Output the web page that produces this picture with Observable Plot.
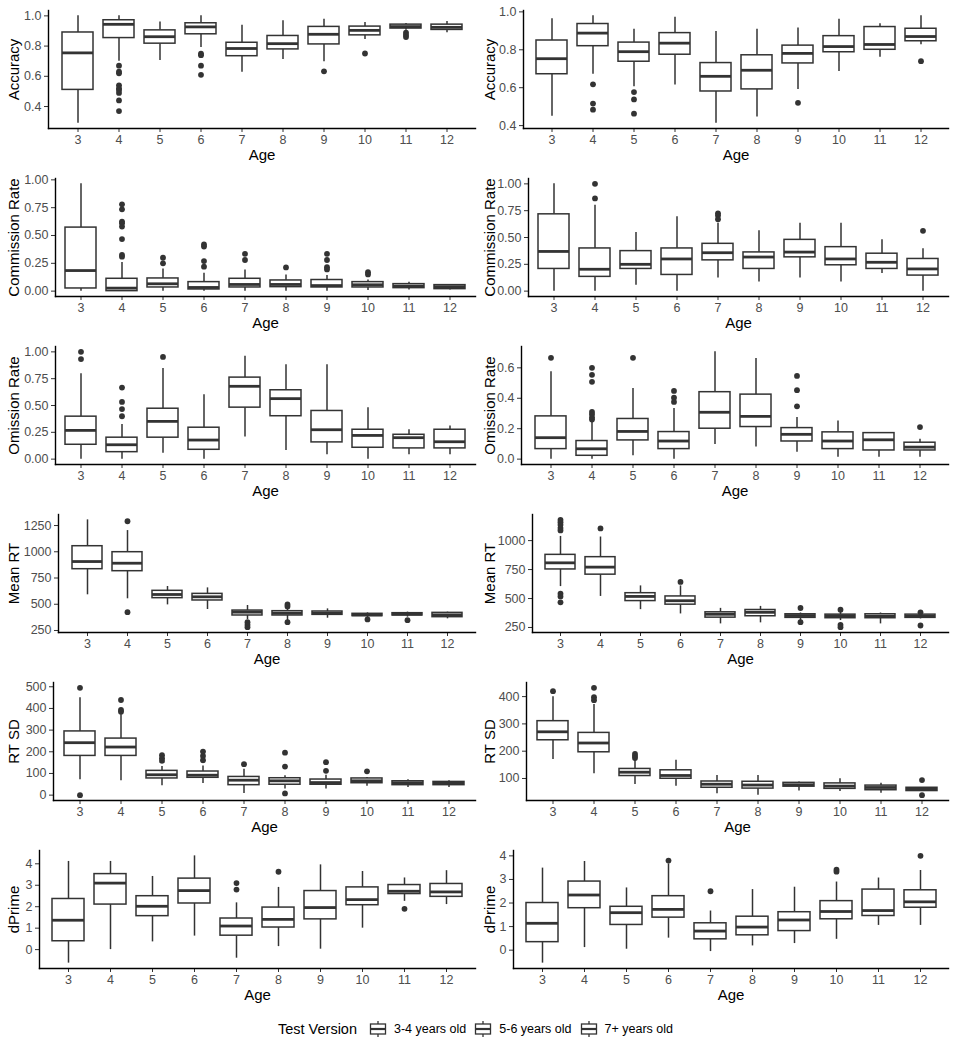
<!DOCTYPE html>
<html><head><meta charset="utf-8">
<script src="https://cdn.jsdelivr.net/npm/d3@7"></script>
<script src="https://cdn.jsdelivr.net/npm/@observablehq/plot@0.6"></script>
<style>
body{margin:0;background:#fff;font-family:"Liberation Sans",Arial,sans-serif;}
#grid{display:flex;flex-wrap:wrap;width:958px;}
#grid svg{display:block;}
#legend{width:958px;height:42px;display:flex;align-items:center;justify-content:center;font-family:"Liberation Sans",Arial,sans-serif;}
#legend .t{font-size:14.5px;color:#000;margin-right:11px;}
#legend .l{font-size:12.5px;color:#000;margin:0 7px 0 6px;}
#legend svg{display:block;}
</style></head><body>
<div id="grid"></div>
<div id="legend"></div>
<script>
const ages = [3,4,5,6,7,8,9,10,11,12];
const legendLabels = ["3-4 years old","5-6 years old","7+ years old"];

// each row: [lower whisker, Q1, median, Q3, upper whisker] for ages 3..12
const accLeft = [[0.29,0.51,0.755,0.89,1.0],[0.70,0.853,0.944,0.971,1.0],[0.704,0.816,0.862,0.904,0.96],[0.79,0.878,0.927,0.951,1.0],[0.627,0.733,0.784,0.822,0.938],[0.711,0.778,0.816,0.867,0.967],[0.696,0.811,0.878,0.927,0.978],[0.844,0.871,0.904,0.929,0.956],[0.905,0.916,0.929,0.942,0.949],[0.889,0.907,0.924,0.942,0.962]];
const accLeftOut = [[4,0.67],[4,0.63],[4,0.62],[4,0.54],[4,0.52],[4,0.51],[4,0.49],[4,0.44],[4,0.37],[6,0.75],[6,0.74],[6,0.67],[6,0.61],[9,0.633],[10,0.751],[11,0.889],[11,0.873],[11,0.86]];
const accRight = [[0.449,0.671,0.753,0.849,0.964],[0.671,0.819,0.888,0.936,0.979],[0.605,0.737,0.79,0.838,0.908],[0.614,0.774,0.835,0.888,0.972],[0.413,0.58,0.66,0.73,0.897],[0.445,0.591,0.692,0.771,0.908],[0.591,0.728,0.781,0.822,0.915],[0.685,0.787,0.817,0.872,0.961],[0.76,0.8,0.828,0.92,0.938],[0.826,0.845,0.87,0.911,0.979]];
const accRightOut = [[4,0.618],[4,0.516],[4,0.484],[5,0.577],[5,0.538],[5,0.463],[9,0.52],[12,0.74]];

const comLeft = [[0,0.024,0.185,0.571,0.964],[0,0,0.027,0.111,0.258],[0,0.033,0.066,0.114,0.2],[0,0.015,0.033,0.081,0.16],[0,0.033,0.06,0.111,0.19],[0,0.036,0.06,0.096,0.144],[0,0.033,0.05,0.1,0.14],[0.005,0.033,0.057,0.081,0.099],[0.01,0.027,0.045,0.063,0.08],[0.01,0.018,0.04,0.054,0.054]];
const comLeftOut = [[4,0.78],[4,0.735],[4,0.625],[4,0.61],[4,0.58],[4,0.468],[4,0.325],[4,0.31],[5,0.30],[5,0.25],[6,0.42],[6,0.40],[6,0.27],[6,0.22],[7,0.335],[7,0.28],[8,0.213],[9,0.335],[9,0.28],[9,0.215],[9,0.195],[10,0.17],[10,0.15]];
const comRight = [[0,0.207,0.37,0.716,1.0],[0,0.133,0.204,0.398,0.8],[0.056,0.207,0.25,0.373,0.546],[0,0.151,0.3,0.398,0.694],[0.123,0.287,0.358,0.441,0.633],[0.086,0.207,0.318,0.361,0.562],[0.123,0.315,0.364,0.478,0.633],[0.086,0.241,0.3,0.41,0.633],[0.164,0.207,0.269,0.349,0.478],[0,0.145,0.207,0.3,0.395]];
const comRightOut = [[4,1.0],[4,0.864],[7,0.725],[7,0.704],[7,0.67],[12,0.562]];

const omLeft = [[0,0.134,0.268,0.396,0.797],[0,0.065,0.134,0.2,0.324],[0.056,0.2,0.352,0.47,0.844],[0,0.087,0.178,0.293,0.6],[0.206,0.48,0.679,0.76,0.96],[0.081,0.4,0.564,0.642,0.88],[0.04,0.156,0.274,0.449,0.88],[0,0.106,0.221,0.274,0.48],[0.04,0.1,0.2,0.227,0.274],[0.04,0.1,0.162,0.274,0.31]];
const omLeftOut = [[3,1.0],[3,0.933],[4,0.667],[4,0.533],[4,0.467],[4,0.4],[5,0.953]];
const omRight = [[0,0.066,0.141,0.281,0.574],[0,0.022,0.068,0.119,0.244],[0.022,0.123,0.182,0.264,0.464],[0,0.066,0.119,0.178,0.332],[0.097,0.2,0.308,0.44,0.705],[0.079,0.211,0.281,0.424,0.662],[0.046,0.116,0.163,0.204,0.273],[0.013,0.066,0.119,0.176,0.251],[0.013,0.057,0.127,0.171,0.171],[0.013,0.057,0.079,0.108,0.13]];
const omRightOut = [[3,0.666],[4,0.6],[4,0.554],[4,0.508],[4,0.31],[4,0.294],[4,0.273],[4,0.26],[5,0.666],[6,0.448],[6,0.404],[6,0.376],[9,0.547],[9,0.453],[9,0.347],[12,0.211]];

const rtLeft = [[590,834,907,1053,1304],[552,815,891,996,1202],[494,558,593,628,669],[450,536,571,599,656],[355,393,425,440,488],[345,393,415,434,494],[367,399,415,431,456],[371,387,399,409,418],[377,393,406,415,425],[361,377,399,418,425]];
const rtLeftOut = [[4,1291],[4,425],[7,329],[7,304],[7,282],[8,498],[8,479],[8,329],[10,355],[11,348]];
const rtRight = [[603,751,808,877,1036],[518,706,771,857,1031],[404,478,518,546,609],[367,447,481,518,609],[281,335,364,381,415],[290,347,381,401,432],[310,333,353,364,375],[310,330,350,361,381],[281,330,347,364,375],[324,333,347,361,367]];
const rtRightOut = [[3,1179],[3,1159],[3,1136],[3,1108],[3,1088],[3,541],[3,518],[3,467],[4,1105],[6,643],[9,418],[9,296],[10,404],[10,273],[10,253],[12,381],[12,267]];

const sdLeft = [[71,181,242,294,449],[66,181,222,261,373],[43,77,94,112,132],[54,80,92,109,135],[8,46,69,84,120],[28,48,66,78,89],[28,48,58,72,92],[41,55,66,77,81],[35,46,57,64,71],[35,46,55,61,66]];
const sdLeftOut = [[3,495],[3,0],[4,439],[4,393],[4,385],[5,184],[5,170],[5,158],[6,201],[6,181],[6,161],[7,143],[8,196],[8,132],[8,8],[9,152],[9,112],[10,110]];
const sdRight = [[170,240,271,310,399],[117,196,230,267,371],[78,109,123,135,170],[72,99,111,130,167],[44,66,79,89,111],[39,63,76,88,111],[54,70,77,84,87],[52,62,72,82,99],[46,57,67,74,83],[54,54,61,66,66]];
const sdRightOut = [[3,420],[4,432],[4,398],[4,387],[5,190],[5,182],[5,175],[12,94],[12,39]];

const dpLeft = [[-0.63,0.39,1.37,2.36,4.11],[0.0,2.1,3.1,3.52,4.11],[0.36,1.56,2.02,2.49,3.41],[0.63,2.15,2.75,3.31,4.37],[-0.4,0.65,1.1,1.45,2.18],[0.14,1.03,1.41,1.96,2.9],[0.02,1.41,1.96,2.73,3.95],[1.0,2.07,2.33,2.9,3.64],[2.25,2.59,2.72,3.01,3.34],[2.1,2.46,2.69,3.06,3.68]];
const dpLeftOut = [[7,3.1],[7,2.8],[8,3.63],[11,1.9]];
const dpRight = [[-0.55,0.34,1.14,2.0,3.48],[0.11,1.78,2.34,2.91,3.76],[0.04,1.07,1.59,1.84,2.64],[0.51,1.38,1.73,2.29,3.66],[-0.06,0.46,0.81,1.14,1.66],[0.18,0.63,0.98,1.42,2.57],[0.28,0.81,1.28,1.61,2.67],[0.46,1.31,1.64,2.08,2.89],[1.05,1.45,1.68,2.57,3.06],[1.05,1.8,2.05,2.54,3.38]];
const dpRightOut = [[6,3.8],[7,2.5],[10,3.41],[10,3.33],[12,4.0]];

const accTicks = [0.4,0.6,0.8,1.0];
const rateTicks = [0,0.25,0.5,0.75,1];
const omRightTicks = [0,0.2,0.4,0.6];
const rtLeftTicks = [250,500,750,1000,1250];
const rtRightTicks = [250,500,750,1000];
const sdLeftTicks = [0,100,200,300,400,500];
const sdRightTicks = [100,200,300,400];
const dpTicks = [0,1,2,3,4];

const f1 = d3.format(".1f"), f2 = d3.format(".2f"), f0 = d3.format("d");

const panels = [
  {s:accLeft, o:accLeftOut, label:"Accuracy", ticks:accTicks, fmt:f1, ml:48, right:false},
  {s:accRight, o:accRightOut, label:"Accuracy", ticks:accTicks, fmt:f1, ml:45, right:true},
  {s:comLeft, o:comLeftOut, label:"Commission Rate", ticks:rateTicks, fmt:f2, ml:55, right:false},
  {s:comRight, o:comRightOut, label:"Commission Rate", ticks:rateTicks, fmt:f2, ml:50, right:true},
  {s:omLeft, o:omLeftOut, label:"Omission Rate", ticks:rateTicks, fmt:f2, ml:55, right:false},
  {s:omRight, o:omRightOut, label:"Omission Rate", ticks:omRightTicks, fmt:f1, ml:43, right:true},
  {s:rtLeft, o:rtLeftOut, label:"Mean RT", ticks:rtLeftTicks, fmt:f0, ml:58, right:false},
  {s:rtRight, o:rtRightOut, label:"Mean RT", ticks:rtRightTicks, fmt:f0, ml:54, right:true},
  {s:sdLeft, o:sdLeftOut, label:"RT SD", ticks:sdLeftTicks, fmt:f0, ml:53, right:false},
  {s:sdRight, o:sdRightOut, label:"RT SD", ticks:sdRightTicks, fmt:f0, ml:48, right:true},
  {s:dpLeft, o:dpLeftOut, label:"dPrime", ticks:dpTicks, fmt:f0, ml:39, right:false},
  {s:dpRight, o:dpRightOut, label:"dPrime", ticks:dpTicks, fmt:f0, ml:35, right:true}
];

const INK = "#333333";
const grid = document.getElementById("grid");

for (const p of panels) {
  const rows = ages.map((a, i) => ({age: String(a), lo: p.s[i][0], q1: p.s[i][1], med: p.s[i][2], q3: p.s[i][3], hi: p.s[i][4]}));
  const outs = p.o.map(([a, v]) => ({age: String(a), v}));
  const all = rows.flatMap(r => [r.lo, r.hi]).concat(outs.map(d => d.v));
  const mn = d3.min(all), mx = d3.max(all), pad = (mx - mn) * 0.05;
  const width = p.right ? 480 : 478;
  const chart = Plot.plot({
    width, height: 168,
    marginTop: 10, marginBottom: 40, marginLeft: p.ml, marginRight: p.right ? 10 : 3,
    style: {fontFamily: "'Liberation Sans', Arial, sans-serif", fontSize: "12.5px", background: "white", overflow: "visible"},
    x: {type: "band", domain: ages.map(String), paddingInner: 0.25, paddingOuter: 0.225, align: 0.5},
    y: {domain: [mn - pad, mx + pad]},
    marks: [
      Plot.axisY({ticks: p.ticks, tickFormat: p.fmt, tickSize: 4, tickPadding: 3, stroke: INK, fill: "#4d4d4d",
        label: p.label, labelAnchor: "center", labelArrow: "none", labelOffset: p.ml - (p.right ? 6 : 8)}),
      Plot.axisX({tickSize: 4, tickPadding: 3, stroke: INK, fill: "#4d4d4d",
        label: "Age", labelAnchor: "center", labelArrow: "none", labelOffset: 31}),
      Plot.ruleX(rows, {x: "age", y1: "lo", y2: "q1", stroke: INK, strokeWidth: 1.5}),
      Plot.ruleX(rows, {x: "age", y1: "q3", y2: "hi", stroke: INK, strokeWidth: 1.5}),
      Plot.barY(rows, {x: "age", y1: "q1", y2: "q3", fill: "white", stroke: INK, strokeWidth: 1.5, insetLeft: 0, insetRight: 0}),
      Plot.tickY(rows, {x: "age", y: "med", stroke: INK, strokeWidth: 2.8}),
      Plot.dot(outs, {x: "age", y: "v", r: 2.9, fill: INK, stroke: "none"}),
      Plot.frame({anchor: "left", stroke: "#000", strokeWidth: 1.4}),
      Plot.frame({anchor: "bottom", stroke: "#000", strokeWidth: 1.4})
    ]
  });
  chart.querySelectorAll('[aria-label="y-axis label"], [aria-label="x-axis label"]').forEach(g => {
    g.setAttribute("fill", "#000");
    g.setAttribute("font-size", "15px");
    g.querySelectorAll("text").forEach(t => { t.setAttribute("fill", "#000"); t.style.fontSize = "15px"; });
  });
  grid.appendChild(chart);
}

// legend
const legend = document.getElementById("legend");
const title = document.createElement("span");
title.className = "t"; title.textContent = "Test Version";
legend.appendChild(title);
for (const lab of legendLabels) {
  const ns = "http://www.w3.org/2000/svg";
  const svg = document.createElementNS(ns, "svg");
  svg.setAttribute("width", 20); svg.setAttribute("height", 20);
  svg.innerHTML = `<line x1="10" x2="10" y1="2" y2="5" stroke="${INK}" stroke-width="1.3"/>
    <line x1="10" x2="10" y1="15" y2="18" stroke="${INK}" stroke-width="1.3"/>
    <rect x="2.5" y="5" width="15" height="10" fill="white" stroke="${INK}" stroke-width="1.3"/>
    <line x1="2.5" x2="17.5" y1="10" y2="10" stroke="${INK}" stroke-width="2.2"/>`;
  legend.appendChild(svg);
  const s = document.createElement("span");
  s.className = "l"; s.textContent = lab;
  legend.appendChild(s);
}
</script>
</body></html>
